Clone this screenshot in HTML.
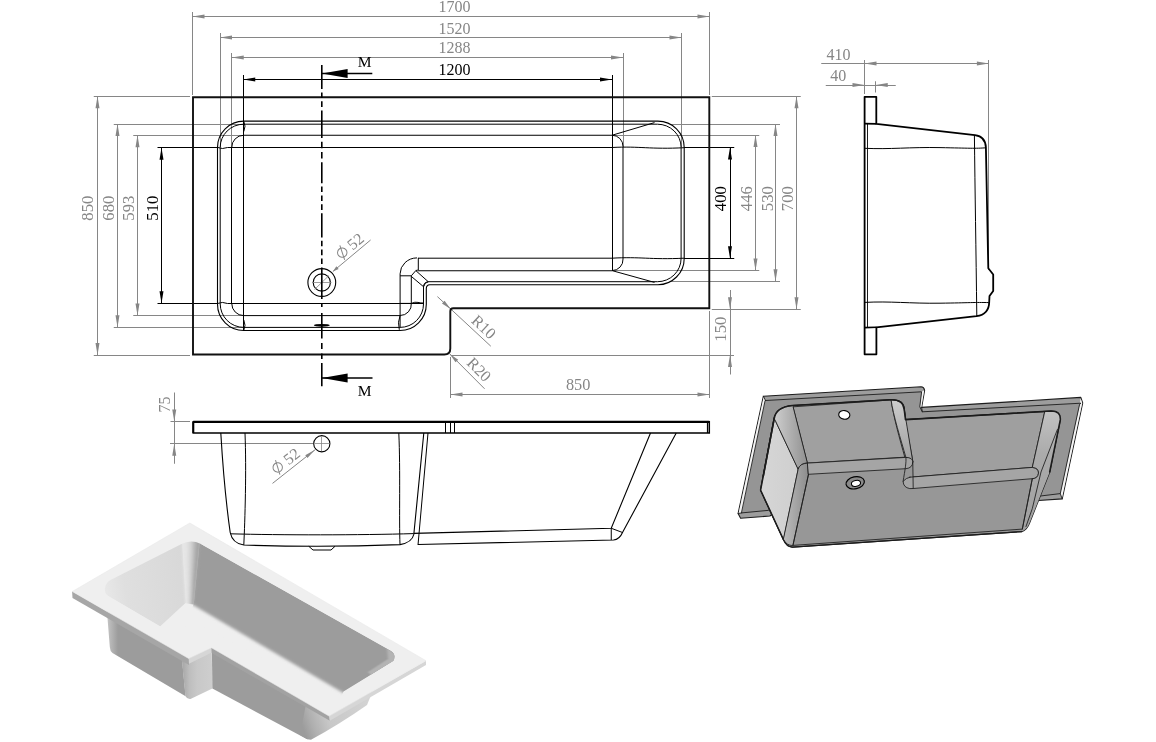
<!DOCTYPE html>
<html><head><meta charset="utf-8"><title>L-shape bath technical drawing</title>
<style>
html,body{margin:0;padding:0;background:#fff;}
body{width:1156px;height:742px;overflow:hidden;}
svg{display:block;font-family:"Liberation Serif",serif;filter:grayscale(1);}
</style></head><body>
<svg width="1156" height="742" viewBox="0 0 1156 742">
<rect width="1156" height="742" fill="#fff"/>
<g id="plan">
<line x1="192.5" y1="12" x2="192.5" y2="95" stroke="#868686" stroke-width="1" />
<line x1="709.5" y1="12" x2="709.5" y2="95" stroke="#868686" stroke-width="1" />
<line x1="192.5" y1="16.5" x2="709.5" y2="16.5" stroke="#868686" stroke-width="1" />
<polygon points="192.5,16.5 204.50,14.50 204.50,18.50" fill="#868686"/>
<polygon points="709.5,16.5 697.50,18.50 697.50,14.50" fill="#868686"/>
<text x="454.6" y="12.4" fill="#868686" font-size="16" text-anchor="middle" >1700</text>
<line x1="220.5" y1="33" x2="220.5" y2="147" stroke="#868686" stroke-width="1" />
<line x1="681.5" y1="33" x2="681.5" y2="147" stroke="#868686" stroke-width="1" />
<line x1="220" y1="37.5" x2="681.5" y2="37.5" stroke="#868686" stroke-width="1" />
<polygon points="220,37.5 232.00,35.50 232.00,39.50" fill="#868686"/>
<polygon points="681.5,37.5 669.50,39.50 669.50,35.50" fill="#868686"/>
<text x="454.6" y="33.6" fill="#868686" font-size="16" text-anchor="middle" >1520</text>
<line x1="231.5" y1="53" x2="231.5" y2="147" stroke="#868686" stroke-width="1" />
<line x1="623.5" y1="53" x2="623.5" y2="147" stroke="#868686" stroke-width="1" />
<line x1="231.75" y1="57.5" x2="623" y2="57.5" stroke="#868686" stroke-width="1" />
<polygon points="231.75,57.5 243.75,55.50 243.75,59.50" fill="#868686"/>
<polygon points="623,57.5 611.00,59.50 611.00,55.50" fill="#868686"/>
<text x="454.6" y="52.9" fill="#868686" font-size="16" text-anchor="middle" >1288</text>
<line x1="243.5" y1="75" x2="243.5" y2="121" stroke="#000" stroke-width="1" />
<line x1="612.5" y1="75" x2="612.5" y2="136" stroke="#000" stroke-width="1" />
<line x1="243.25" y1="79.5" x2="612" y2="79.5" stroke="#000" stroke-width="1" />
<polygon points="243.25,79.5 255.25,77.50 255.25,81.50" fill="#000"/>
<polygon points="612,79.5 600.00,81.50 600.00,77.50" fill="#000"/>
<text x="454.6" y="75.3" fill="#000" font-size="16" text-anchor="middle" >1200</text>
<line x1="93.75" y1="96.5" x2="190" y2="96.5" stroke="#868686" stroke-width="1" />
<line x1="93.75" y1="355.5" x2="190" y2="355.5" stroke="#868686" stroke-width="1" />
<line x1="97.5" y1="96.25" x2="97.5" y2="355" stroke="#868686" stroke-width="1" />
<polygon points="97.5,96.25 99.50,108.25 95.50,108.25" fill="#868686"/>
<polygon points="97.5,355 95.50,343.00 99.50,343.00" fill="#868686"/>
<line x1="113.75" y1="124.5" x2="243" y2="124.5" stroke="#868686" stroke-width="1" />
<line x1="113.75" y1="327.5" x2="243" y2="327.5" stroke="#868686" stroke-width="1" />
<line x1="117.5" y1="124" x2="117.5" y2="327.25" stroke="#868686" stroke-width="1" />
<polygon points="117.5,124 119.50,136.00 115.50,136.00" fill="#868686"/>
<polygon points="117.5,327.25 115.50,315.25 119.50,315.25" fill="#868686"/>
<line x1="133.25" y1="135.5" x2="243" y2="135.5" stroke="#868686" stroke-width="1" />
<line x1="133.25" y1="315.5" x2="243" y2="315.5" stroke="#868686" stroke-width="1" />
<line x1="137.5" y1="135.25" x2="137.5" y2="315.5" stroke="#868686" stroke-width="1" />
<polygon points="137.5,135.25 139.50,147.25 135.50,147.25" fill="#868686"/>
<polygon points="137.5,315.5 135.50,303.50 139.50,303.50" fill="#868686"/>
<line x1="157.5" y1="147.5" x2="217" y2="147.5" stroke="#000" stroke-width="1" />
<line x1="157.5" y1="303.5" x2="217" y2="303.5" stroke="#000" stroke-width="1" />
<line x1="161.5" y1="147.75" x2="161.5" y2="303.25" stroke="#000" stroke-width="1" />
<polygon points="161.5,147.75 163.50,159.75 159.50,159.75" fill="#000"/>
<polygon points="161.5,303.25 159.50,291.25 163.50,291.25" fill="#000"/>
<text x="93.4" y="208.2" fill="#868686" font-size="16.6" text-anchor="middle" transform="rotate(-90 93.4 208.2)" >850</text>
<text x="113.7" y="208.2" fill="#868686" font-size="16.6" text-anchor="middle" transform="rotate(-90 113.7 208.2)" >680</text>
<text x="133.7" y="208.2" fill="#868686" font-size="16.6" text-anchor="middle" transform="rotate(-90 133.7 208.2)" >593</text>
<text x="157.6" y="208.2" fill="#000" font-size="16.6" text-anchor="middle" transform="rotate(-90 157.6 208.2)" >510</text>
<line x1="684" y1="147.5" x2="734.25" y2="147.5" stroke="#000" stroke-width="1" />
<line x1="684" y1="258.5" x2="734.25" y2="258.5" stroke="#000" stroke-width="1" />
<line x1="730.5" y1="147.5" x2="730.5" y2="258.25" stroke="#000" stroke-width="1" />
<polygon points="730,147.5 732.00,159.50 728.00,159.50" fill="#000"/>
<polygon points="730,258.25 728.00,246.25 732.00,246.25" fill="#000"/>
<line x1="612" y1="135.5" x2="759.25" y2="135.5" stroke="#868686" stroke-width="1" />
<line x1="612" y1="270.5" x2="759.25" y2="270.5" stroke="#868686" stroke-width="1" />
<line x1="755.5" y1="135" x2="755.5" y2="270.5" stroke="#868686" stroke-width="1" />
<polygon points="755.5,135 757.50,147.00 753.50,147.00" fill="#868686"/>
<polygon points="755.5,270.5 753.50,258.50 757.50,258.50" fill="#868686"/>
<line x1="670" y1="124.5" x2="780" y2="124.5" stroke="#868686" stroke-width="1" />
<line x1="670" y1="281.5" x2="780" y2="281.5" stroke="#868686" stroke-width="1" />
<line x1="775.5" y1="124" x2="775.5" y2="281.25" stroke="#868686" stroke-width="1" />
<polygon points="775.5,124 777.50,136.00 773.50,136.00" fill="#868686"/>
<polygon points="775.5,281.25 773.50,269.25 777.50,269.25" fill="#868686"/>
<line x1="711.75" y1="96.5" x2="800.75" y2="96.5" stroke="#868686" stroke-width="1" />
<line x1="711.75" y1="309.5" x2="800.75" y2="309.5" stroke="#868686" stroke-width="1" />
<line x1="796.5" y1="96.25" x2="796.5" y2="309.25" stroke="#868686" stroke-width="1" />
<polygon points="796.5,96.25 798.50,108.25 794.50,108.25" fill="#868686"/>
<polygon points="796.5,309.25 794.50,297.25 798.50,297.25" fill="#868686"/>
<text x="726.4" y="198.7" fill="#000" font-size="16.6" text-anchor="middle" transform="rotate(-90 726.4 198.7)" >400</text>
<text x="752.2" y="198.7" fill="#868686" font-size="16.6" text-anchor="middle" transform="rotate(-90 752.2 198.7)" >446</text>
<text x="772.6" y="198.7" fill="#868686" font-size="16.6" text-anchor="middle" transform="rotate(-90 772.6 198.7)" >530</text>
<text x="793.2" y="198.7" fill="#868686" font-size="16.6" text-anchor="middle" transform="rotate(-90 793.2 198.7)" >700</text>
<line x1="730.5" y1="290" x2="730.5" y2="374.5" stroke="#868686" stroke-width="1" />
<polygon points="730,309.25 728.00,297.25 732.00,297.25" fill="#868686"/>
<polygon points="730,355 732.00,367.00 728.00,367.00" fill="#868686"/>
<line x1="450.75" y1="355.5" x2="734" y2="355.5" stroke="#868686" stroke-width="1" />
<line x1="709.5" y1="311" x2="709.5" y2="398" stroke="#868686" stroke-width="1" />
<text x="726.4" y="329.2" fill="#868686" font-size="16.6" text-anchor="middle" transform="rotate(-90 726.4 329.2)" >150</text>
<line x1="450.5" y1="357" x2="450.5" y2="398" stroke="#868686" stroke-width="1" />
<line x1="450.5" y1="394.5" x2="709.5" y2="394.5" stroke="#868686" stroke-width="1" />
<polygon points="450.5,394.5 462.50,392.50 462.50,396.50" fill="#868686"/>
<polygon points="709.5,394.5 697.50,396.50 697.50,392.50" fill="#868686"/>
<text x="578.1" y="389.9" fill="#868686" font-size="16.3" text-anchor="middle" >850</text>
<line x1="437.4" y1="296.6" x2="490.8" y2="346.2" stroke="#868686" stroke-width="1" />
<polygon points="450.6,309.0 441.98,303.58 444.56,300.80" fill="#868686"/>
<line x1="449.8" y1="353.9" x2="484.6" y2="388.8" stroke="#868686" stroke-width="1" />
<polygon points="449.8,353.9 458.21,359.64 455.51,362.32" fill="#868686"/>
<g transform="translate(437.4,296.6) rotate(42.9)"><text x="54.7" y="-4" fill="#868686" font-size="16" text-anchor="middle">R10</text></g>
<g transform="translate(449.8,353.9) rotate(45.1)"><text x="31.8" y="-4.4" fill="#868686" font-size="16" text-anchor="middle">R20</text></g>
<line x1="332.9" y1="271.5" x2="370.6" y2="240.0" stroke="#868686" stroke-width="1" />
<polygon points="332.9,271.5 336.35,266.27 338.66,269.03" fill="#868686"/>
<g transform="translate(332.9,271.5) rotate(-39.88)"><circle cx="19.3" cy="-8.5" r="4.7" fill="none" stroke="#868686" stroke-width="1"/><line x1="22.1" y1="-15.6" x2="16.5" y2="-1.4000000000000004" stroke="#868686" stroke-width="1"/><text x="36.6" y="-3.2" fill="#868686" font-size="16" text-anchor="middle">52</text></g>
<path d="M193,97.2 H709.3 V308.3 H453.3 Q450.3,308.3 450.3,311.3 V348.5 Q450.3,354.5 444.3,354.5 H193 Z" stroke="#111" stroke-width="1.9" fill="none" stroke-linejoin="miter"/>
<path d="M217.5,147.4 A26.3,26.3 0 0 1 243.8,121.1 H657.9 A26.3,26.3 0 0 1 684.2,147.4 V258.4 A26.3,26.3 0 0 1 657.9,284.7 H429.8 Q426.3,284.9 426.3,288.6 V304.2 A26.3,26.3 0 0 1 400,330.5 H243.8 A26.3,26.3 0 0 1 217.5,304.2 Z" stroke="#000" stroke-width="1.1" fill="none" />
<path d="M220.2,147.4 A23.6,23.2 0 0 1 243.8,124.2 H657.5 A23.6,23.2 0 0 1 681.1,147.4 V258.4 A23.6,23.3 0 0 1 657.5,281.7 H429 Q423.5,281.9 423.5,287 V304 A23.5,23.4 0 0 1 400,327.4 H243.8 A23.6,23.6 0 0 1 220.2,303.8 Z" stroke="#000" stroke-width="1" fill="none" />
<path d="M231.75,147.5 A12,12 0 0 1 243.75,135.25 H612" stroke="#000" stroke-width="1" fill="none" />
<path d="M217.5,147.4 Q222.5,149.6 227.5,147.5 H612 C640,146 650,149.5 684.25,147.7" stroke="#000" stroke-width="1" fill="none" />
<line x1="231.5" y1="147.5" x2="231.5" y2="303.5" stroke="#000" stroke-width="1" />
<line x1="243.5" y1="121.1" x2="243.5" y2="330.5" stroke="#000" stroke-width="1" />
<path d="M231.75,303.5 A12,12 0 0 0 243.75,315.6 H400" stroke="#000" stroke-width="1" fill="none" />
<path d="M217.5,303.5 Q222.5,301.4 227.5,303.5 H423.5" stroke="#000" stroke-width="1" fill="none" />
<path d="M243.8,121.3 Q246.2,126 243.8,131.5 M243.8,330.3 Q246.2,325.5 243.8,320" stroke="#000" stroke-width="1" fill="none" />
<path d="M612,135.25 A11,11 0 0 1 623,146.5 V259 A11,11 0 0 1 612,270.6" stroke="#000" stroke-width="1" fill="none" />
<line x1="612.5" y1="135.25" x2="612.5" y2="270.6" stroke="#000" stroke-width="1" />
<line x1="612" y1="135.25" x2="654.5" y2="122.6" stroke="#000" stroke-width="1" />
<line x1="612" y1="270.6" x2="654.5" y2="282.4" stroke="#000" stroke-width="1" />
<path d="M418,258.2 H612 C640,256.5 650,259.8 684.25,258.2" stroke="#000" stroke-width="1" fill="none" />
<path d="M417.5,270.75 H612" stroke="#000" stroke-width="1" fill="none" />
<path d="M400.1,327 V273.8 A17,16 0 0 1 417,257.9" stroke="#000" stroke-width="1" fill="none" />
<path d="M418.3,257.9 V270 M400.1,275.8 H411.3" stroke="#000" stroke-width="1" fill="none" />
<path d="M411.3,303.3 V275.8 L415.8,270.6 L417.7,270" stroke="#000" stroke-width="1" fill="none" />
<path d="M411.3,276.4 L423.5,286.7 M415.8,270.6 L428,281.5 M423.6,286.6 Q424.5,282.5 428.5,281.6" stroke="#000" stroke-width="1" fill="none" />
<path d="M400.1,315.5 A11.2,11.2 0 0 0 411.3,303.3" stroke="#000" stroke-width="1" fill="none" />
<path d="M400.1,303.4 H411.3 Q415,301.6 418,302.4 T423.5,303" stroke="#000" stroke-width="1" fill="none" />
<path d="M400.1,315.5 Q397.3,322 399.3,329.8" stroke="#000" stroke-width="1" fill="none" />
<circle cx="321.8" cy="282.5" r="13.9" fill="none" stroke="#000" stroke-width="1.1"/>
<circle cx="321.8" cy="282.5" r="8.6" fill="none" stroke="#000" stroke-width="1.1"/>
<line x1="312" y1="282.5" x2="331.5" y2="282.5" stroke="#868686" stroke-width="0.8" />
<line x1="314.5" y1="289.5" x2="329" y2="275.5" stroke="#868686" stroke-width="0.8" />
<ellipse cx="321.8" cy="325.3" rx="8" ry="1.4" fill="#000"/>
<path d="M321.8,64.9 V89.1 M321.8,92.4 V98 M321.8,101.3 V107 M321.8,110.5 V138 M321.8,141.8 V148.3 M321.8,152 V158.5 M321.8,162.3 V183.2 M321.8,186.5 V192.1 M321.8,195.4 V201 M321.8,204.3 V210 M321.8,213.2 V237.4 M321.8,240.7 V246.3 M321.8,249.6 V255.2 M321.8,258.5 V264.1 M321.8,267.4 V298.9 M321.8,302.9 V306.9 M321.8,312.9 V338.5 M321.8,342.9 V348.9 M321.8,353.4 V358.9 M321.8,362.9 V386.3" stroke="#000" stroke-width="1.6" fill="none" />
<line x1="322" y1="73.4" x2="372.3" y2="73.4" stroke="#000" stroke-width="1.5" />
<polygon points="322,73.4 347.60,68.90 347.60,77.90" fill="#000"/>
<line x1="322" y1="378" x2="372.5" y2="378" stroke="#000" stroke-width="1.5" />
<polygon points="322,378 347.60,373.50 347.60,382.50" fill="#000"/>
<text x="364.7" y="66.8" fill="#000" font-size="15.5" text-anchor="middle" >M</text>
<text x="364.7" y="396" fill="#000" font-size="15.5" text-anchor="middle" >M</text>
</g>
<g id="side">
<line x1="864.5" y1="60" x2="864.5" y2="94" stroke="#868686" stroke-width="1" />
<line x1="988.5" y1="60" x2="988.5" y2="270" stroke="#868686" stroke-width="1" />
<line x1="821.25" y1="63.5" x2="988.9" y2="63.5" stroke="#868686" stroke-width="1" />
<polygon points="864.5,63.5 876.50,61.50 876.50,65.50" fill="#868686"/>
<polygon points="988.9,63.5 976.90,65.50 976.90,61.50" fill="#868686"/>
<text x="838.5" y="59.5" fill="#868686" font-size="16" text-anchor="middle" >410</text>
<line x1="875.5" y1="81.25" x2="875.5" y2="92.5" stroke="#868686" stroke-width="1" />
<line x1="825.75" y1="85.5" x2="895.75" y2="85.5" stroke="#868686" stroke-width="1" />
<polygon points="864.5,85 852.50,87.00 852.50,83.00" fill="#868686"/>
<polygon points="875.75,85 887.75,83.00 887.75,87.00" fill="#868686"/>
<text x="838.2" y="80.75" fill="#868686" font-size="16" text-anchor="middle" >40</text>
<path d="M864.6,354.3 V96.8 H876.3 V123.8 L975,135.1 Q985.4,136.3 985.9,147.5 L988.3,268.3 L993.2,274.5 V291 L989.5,296 L989.2,302 Q989,314.5 976.5,316.2 L876.4,327.3 V354.3 Z" stroke="#000" stroke-width="1.8" fill="none" stroke-linejoin="round"/>
<line x1="864.6" y1="123.6" x2="876.3" y2="123.8" stroke="#000" stroke-width="1.8" />
<line x1="864.6" y1="327.6" x2="876.4" y2="327.3" stroke="#000" stroke-width="1.6" />
<line x1="867.5" y1="123.8" x2="867.5" y2="327.5" stroke="#000" stroke-width="0.9" />
<path d="M864.6,148.3 C890,149.5 910,147 940,147.6 S975,148.6 986,147.8" stroke="#000" stroke-width="1" fill="none" />
<path d="M864.6,302.4 C890,301 910,303.6 940,303.2 S975,302.2 988.8,302.6" stroke="#000" stroke-width="1" fill="none" />
<path d="M974.4,135 C975,190 976,250 976.8,316" stroke="#000" stroke-width="1" fill="none" />
</g>
<g id="front">
<line x1="174.5" y1="392.5" x2="174.5" y2="463.75" stroke="#868686" stroke-width="1" />
<polygon points="174.25,421.4 172.25,409.40 176.25,409.40" fill="#868686"/>
<polygon points="174.25,443.75 176.25,455.75 172.25,455.75" fill="#868686"/>
<line x1="170.5" y1="421.5" x2="190" y2="421.5" stroke="#868686" stroke-width="1" />
<line x1="170" y1="443.5" x2="313" y2="443.5" stroke="#868686" stroke-width="1" />
<text x="170.5" y="404.4" fill="#868686" font-size="16" text-anchor="middle" transform="rotate(-90 170.5 404.4)" >75</text>
<path d="M193.2,433.1 V421.8 H709.3 V433.1 Z" stroke="#000" stroke-width="1.5" fill="none" />
<line x1="193.2" y1="421.9" x2="709.3" y2="421.9" stroke="#000" stroke-width="2.2" />
<line x1="193.3" y1="421.8" x2="193.3" y2="433" stroke="#000" stroke-width="2" />
<line x1="707.5" y1="421.8" x2="707.5" y2="433" stroke="#000" stroke-width="1.2" />
<line x1="445.5" y1="422" x2="445.5" y2="433" stroke="#000" stroke-width="1" />
<line x1="450.5" y1="422" x2="450.5" y2="433" stroke="#000" stroke-width="1" />
<line x1="454.5" y1="422" x2="454.5" y2="433" stroke="#000" stroke-width="1" />
<path d="M220.8,433 C223,470 227,510 230.2,532.5 Q232.5,543.5 243.8,545 C290,546.6 350,546.6 400,544.6 Q412,542.5 413.8,534.5 L423.8,433" stroke="#000" stroke-width="1.1" fill="none" />
<path d="M245,433 C246.5,470 245,520 243.8,545" stroke="#000" stroke-width="1" fill="none" />
<path d="M230.4,533.8 C280,535.2 360,535.2 413.6,533.6" stroke="#000" stroke-width="1" fill="none" />
<path d="M398.8,433 C400.5,470 399,520 400,544.6" stroke="#000" stroke-width="1" fill="none" />
<path d="M428,433 L418,545" stroke="#000" stroke-width="1" fill="none" />
<path d="M308.8,546.3 L313,550 H331 L335,546.3" stroke="#000" stroke-width="1" fill="none" />
<circle cx="321.8" cy="443.75" r="8.1" fill="#fff" stroke="#000" stroke-width="1.1"/>
<line x1="314.5" y1="443.5" x2="329.5" y2="443.5" stroke="#868686" stroke-width="0.8" />
<line x1="321.5" y1="436.5" x2="321.5" y2="451" stroke="#868686" stroke-width="0.8" />
<line x1="272.5" y1="483.4" x2="315" y2="449.8" stroke="#868686" stroke-width="1" />
<polygon points="315,449.8 307.49,458.03 305.25,455.21" fill="#868686"/>
<g transform="translate(272.5,483.4) rotate(-38.33)"><circle cx="14.0" cy="-9.3" r="4.7" fill="none" stroke="#868686" stroke-width="1"/><line x1="16.8" y1="-16.4" x2="11.2" y2="-2.200000000000001" stroke="#868686" stroke-width="1"/><text x="32" y="-4.0" fill="#868686" font-size="16" text-anchor="middle">52</text></g>
<path d="M413.8,533.4 L611.25,528.25 L650.5,433" stroke="#000" stroke-width="1.1" fill="none" />
<path d="M418,544.5 L613.5,540 Q619.5,539.5 622.5,532.5 L676.25,433" stroke="#000" stroke-width="1.1" fill="none" />
<path d="M611.25,528.25 V540 M611.25,528.25 L622.5,532.5" stroke="#000" stroke-width="1" fill="none" />
</g>
<g id="gray3d" stroke-linejoin="round" stroke-linecap="round">
<defs>
<linearGradient id="gEnd" x1="0" y1="0" x2="1" y2="0"><stop offset="0" stop-color="#d6d6d6"/><stop offset="1" stop-color="#cfcfcf"/></linearGradient>
<linearGradient id="gBl1" x1="0" y1="0" x2="1" y2="0"><stop offset="0" stop-color="#cfcfcf"/><stop offset="1" stop-color="#8f8f8f"/></linearGradient>
<linearGradient id="gBl2" x1="0" y1="0" x2="1" y2="0"><stop offset="0" stop-color="#bcbcbc"/><stop offset="1" stop-color="#8c8c8c"/></linearGradient>
<linearGradient id="gBl3" x1="0" y1="0" x2="0" y2="1"><stop offset="0" stop-color="#cccccc"/><stop offset="1" stop-color="#a0a0a0"/></linearGradient>
<linearGradient id="gBl4" gradientUnits="userSpaceOnUse" x1="1040" y1="412" x2="1040" y2="530"><stop offset="0" stop-color="#c2c2c2"/><stop offset="0.35" stop-color="#ababab"/><stop offset="1" stop-color="#a0a0a0"/></linearGradient>
</defs>
<path d="M763.4,396.2 L921,386.8 Q924,387 924.6,390.3 L921.6,407.4 L1080.8,397.4 L1082.7,403 L1062.2,498.9 L1038.5,500.5 L1030,470 L900,440 L790,500 L769.9,516 L740.6,518.3 L738.1,513.5 Z" stroke="#1c1c1c" stroke-width="1.1" fill="#9d9d9d" />
<path d="M763.6,397 L765.4,400.6 L741.9,512.8 L738.6,513.2 Z" stroke="none" stroke-width="0" fill="#f4f4f4" />
<path d="M1080.6,398.2 L1082.3,403 L1062,498 L1060.4,493.6 L1079.7,404.2 Z" stroke="none" stroke-width="0" fill="#f4f4f4" />
<path d="M921.8,391.6 L924.2,390.6 L921.4,407 L919.9,406.6 Z" stroke="none" stroke-width="0" fill="#f4f4f4" />
<path d="M765.5,400.5 L921.6,391.8 L919.8,406.8 L922.3,411.8 L1081,403.2 L1079.6,404.3 L1060.3,493.6 L1039.7,496.1 L1030,470 L790,500 L768,510.4 L741.8,512.9 Z" stroke="#1c1c1c" stroke-width="0.9" fill="#959595" />
<line x1="763.4" y1="396.2" x2="765.5" y2="400.5" stroke="#1c1c1c" stroke-width="0.85" />
<line x1="738.1" y1="513.5" x2="741.8" y2="512.9" stroke="#1c1c1c" stroke-width="0.85" />
<line x1="1062.2" y1="498.9" x2="1060.3" y2="493.6" stroke="#1c1c1c" stroke-width="0.85" />
<line x1="921.6" y1="407.4" x2="922.3" y2="411.8" stroke="#1c1c1c" stroke-width="0.85" />
<path d="M774.2,418.6 Q776,407 792.3,405.5 L891.1,399.7 Q903.5,399.5 904.2,409.3 L905.5,419.5 L1051,411 Q1061,411 1060.3,419.9 L1049.7,472 L1029.8,522.3 Q1027,530 1021.7,531.6 L792.3,547.2 Q786.5,546.5 783.5,539.7 L760.6,490.2 Z" stroke="#1c1c1c" stroke-width="1.25" fill="#979797" />
<path d="M774.2,418.6 L775.5,421 L798.2,469 L783.5,539.7 L760.6,490.2 Z" stroke="#1c1c1c" stroke-width="0.85" fill="url(#gEnd)" />
<path d="M774.2,418.6 L760.6,490.2 L783.5,539.7" stroke="#1c1c1c" stroke-width="1.5" fill="none" />
<path d="M775.5,421 L773.8,418 Q776.5,407.2 792.3,405.6 L793.5,406.8 L807.8,462.8 Q799.5,463.5 798.2,469 Z" stroke="#1c1c1c" stroke-width="0.85" fill="url(#gBl1)" />
<path d="M798.2,469 Q799.5,463.5 807.8,463.1 L808.5,474.3 L792.9,545.6 Q786.5,545.5 783.5,539.7 Z" stroke="#1c1c1c" stroke-width="0.85" fill="url(#gBl2)" />
<path d="M793.5,406.8 L891.1,399.9 C893,415 900,440 904.8,457.2 L807.8,463 Z" stroke="#1c1c1c" stroke-width="0.85" fill="#a0a0a0" />
<path d="M905.5,419.6 L1044.7,411.8 L1032.3,467.4 L909.9,477.2 L912.8,461.8 Z" stroke="#1c1c1c" stroke-width="0.85" fill="#9f9f9f" />
<path d="M905.9,468.7 C904.6,473 903.2,477 903.1,481.3 Q903.3,487.5 909.8,488.6 L913.2,488.5 L912.8,461.8 Z" stroke="none" stroke-width="0" fill="#979797" />
<path d="M909.9,477.2 L1032.3,467.4 Q1038.8,468 1038.5,473.1 Q1038,478.5 1032.3,478.7 L913.2,488.5 L909.8,488.6 Q903.3,487.5 903.1,481.3 Q906,478 909.9,477.2 Z" stroke="#1c1c1c" stroke-width="0.85" fill="#a5a5a5" />
<path d="M891.1,399.9 Q903.5,399.7 904.2,409.3 L912.8,461.8 Q911,457.6 905.9,457.4 C901,440 893,415 891.1,399.9 Z" stroke="#1c1c1c" stroke-width="0.85" fill="url(#gBl3)" />
<path d="M807.8,463.1 L905.9,457.4 Q912.6,457.6 912.8,461.8 Q912.6,468 905.9,468.7 L808.5,474.3 Z" stroke="#1c1c1c" stroke-width="0.85" fill="#a5a5a5" />
<path d="M905.9,457.4 C906.5,462 905,470 903.1,481.3" stroke="#1c1c1c" stroke-width="0.85" fill="none" />
<path d="M912.8,461.8 L913.2,488.4" stroke="#1c1c1c" stroke-width="0.85" fill="none" />
<path d="M1044.7,411.8 L1051,411 Q1061,411 1060.3,419.9 L1049.7,472 L1029.8,522.3 Q1027,530 1021.7,531.6 L1022.3,529.1 L1032.3,478.7 Q1038,478.5 1038.5,473.1 Q1038.8,468 1032.3,467.4 Z" stroke="none" stroke-width="0" fill="url(#gBl4)" />
<path d="M1044.7,411.8 L1032.3,467.4 Q1038.8,468 1038.5,473.1 Q1038,478.5 1032.3,478.7 L1022.3,529.3" stroke="#1c1c1c" stroke-width="0.85" fill="none" />
<path d="M1057.4,429.5 L1041,472 L1032.3,508.6 L1026,526.5" stroke="#1c1c1c" stroke-width="0.85" fill="none" />
<path d="M808.5,474.3 L792.9,545.4 L1022.3,529.1 L1032.3,478.7" stroke="#1c1c1c" stroke-width="0.85" fill="none" />
<path d="M783.5,539.7 Q786.5,546.6 792.3,547.2 L1021.7,531.6" stroke="#1c1c1c" stroke-width="1.1" fill="none" />
<path d="M763.3,476 L774.2,418.6 Q776,407 792.3,405.5 L891.1,399.7 Q903.5,399.5 904.2,409.3 L905.5,419.6 L1051,411 Q1061,411 1060.3,419.9 L1049.7,472" stroke="#1c1c1c" stroke-width="1.6" fill="none" />
<ellipse cx="844.3" cy="414.9" rx="5.6" ry="4.3" fill="#fff" stroke="#000" stroke-width="1.1" transform="rotate(8 844.3 414.9)"/>
<ellipse cx="855.2" cy="482.8" rx="9.3" ry="6" fill="#8a8a8a" stroke="#000" stroke-width="1.2" transform="rotate(-12 855.2 482.8)"/>
<ellipse cx="856" cy="483.4" rx="4.6" ry="2.9" fill="#fff" stroke="#000" stroke-width="1" transform="rotate(-12 856 483.4)"/>
</g>
<g id="white3d">
<defs>
<filter id="b1" x="-10%" y="-10%" width="120%" height="120%"><feGaussianBlur stdDeviation="0.7"/></filter>
<filter id="b15" x="-20%" y="-10%" width="140%" height="120%"><feGaussianBlur stdDeviation="1.1 0.4"/></filter>
<filter id="b2" x="-10%" y="-10%" width="120%" height="120%"><feGaussianBlur stdDeviation="1.6"/></filter>
<linearGradient id="wCorner" gradientUnits="userSpaceOnUse" x1="181" y1="570" x2="199" y2="570"><stop offset="0" stop-color="#e2e2e2"/><stop offset="0.45" stop-color="#d2d2d2"/><stop offset="1" stop-color="#9d9d9d"/></linearGradient>
<linearGradient id="wSlope" gradientUnits="userSpaceOnUse" x1="302" y1="725" x2="372" y2="700"><stop offset="0" stop-color="#9c9c9c"/><stop offset="0.14" stop-color="#b0b0b0"/><stop offset="0.36" stop-color="#c8c8c8"/><stop offset="1" stop-color="#d4d4d4"/></linearGradient>
<linearGradient id="wLeft" gradientUnits="userSpaceOnUse" x1="106" y1="630" x2="118" y2="630"><stop offset="0" stop-color="#c9c9c9"/><stop offset="1" stop-color="#9c9c9c"/></linearGradient>
<linearGradient id="wEnd" gradientUnits="userSpaceOnUse" x1="104" y1="590" x2="186" y2="575"><stop offset="0" stop-color="#e8e8e8"/><stop offset="0.25" stop-color="#dfdfdf"/><stop offset="1" stop-color="#d8d8d8"/></linearGradient>
<linearGradient id="wNotch" gradientUnits="userSpaceOnUse" x1="182" y1="670" x2="212" y2="670"><stop offset="0" stop-color="#a6a6a6"/><stop offset="0.25" stop-color="#bebebe"/><stop offset="0.5" stop-color="#c8c8c8"/><stop offset="1" stop-color="#cecece"/></linearGradient>
<clipPath id="wOpen"><path d="M105.3,586.5 Q106.5,582.3 110.5,580 L181,544.2 Q191,538.8 200.5,543.8 L391,650.8 Q397,655 393.5,661 L347,690 L340,700 L200,625 L163,628 L108.8,596.6 Q103.6,592.8 105.3,586.5 Z"/></clipPath><clipPath id="wWall"><path d="M199.6,543.2 L391,650.8 Q397,655 393.5,661 L343.5,691.6 L338,703 L190,615 L193.9,603 Z"/></clipPath>
</defs>
<g filter="url(#b1)">
<path d="M106.7,608 L181.5,654 L185.6,696.3 L112.5,653 Q110,651 109.8,647 Z" stroke="none" stroke-width="0" fill="url(#wLeft)" />
<path d="M181.3,654 L211.6,642 L212.4,688.4 L190.5,699 Q187.3,699.6 185.4,696 Z" stroke="none" stroke-width="0" fill="url(#wNotch)" />
<path d="M211.8,644 L316,706 L307.2,739.3 L212.4,688.4 Z" stroke="none" stroke-width="0" fill="#9c9c9c" />
<path d="M306,704 L374,688 L367,705 Q340,724 311,739.8 L307.2,739.3 L300,735 Z" stroke="none" stroke-width="0" fill="url(#wSlope)" />
</g>
<path d="M72.1,591.2 L188.9,658.8 L189,665 L72.5,598 Z" stroke="none" stroke-width="0" fill="#a6a6a6" />
<path d="M188.7,658.5 L211.4,647.7 L211.7,652.4 L189,663.8 Z" stroke="none" stroke-width="0" fill="#d6d6d6" />
<path d="M211.4,647.7 L329.1,716.1 L329.8,720.7 L211.7,653 Z" stroke="none" stroke-width="0" fill="#a2a2a2" />
<path d="M329.1,716.1 L426,660.7 L426,665 L329.8,720.7 Z" stroke="none" stroke-width="0" fill="#d6d6d6" />
<path d="M189.8,523 L426,660.7 L329.1,716.1 L211.4,647.7 L188.7,658.5 L72.3,591.5 Z" stroke="#e9e9e9" stroke-width="0.6" fill="#efefef" />
<g clip-path="url(#wOpen)">
<rect x="90" y="520" width="320" height="190" fill="#efefef"/>
<path d="M98,590 L104,578 L182,539 L186,602.5 L160,626.5 Z" stroke="none" stroke-width="0" fill="url(#wEnd)" filter="url(#b1)"/>
<g clip-path="url(#wWall)">
<path d="M170,520 L420,640 L420,670 L346,694.6 L170,591.5 Z" stroke="none" stroke-width="0" fill="#9c9c9c" filter="url(#b2)"/>
<path d="M387,648 L396,655 L395,662 L372,676 L368,672 L388,659 Z" stroke="none" stroke-width="0" fill="#b4b4b4" filter="url(#b15)"/>
</g>
<g filter="url(#b15)">
<path d="M181.50,536 L183.77,536 L186.12,603.18 L185.00,603.00 Z" stroke="none" stroke-width="0" fill="#e4e4e4" />
<path d="M182.84,536 L185.11,536 L186.77,603.29 L185.66,603.11 Z" stroke="none" stroke-width="0" fill="#e5e5e5" />
<path d="M184.17,536 L186.44,536 L187.43,603.40 L186.31,603.21 Z" stroke="none" stroke-width="0" fill="#e6e6e6" />
<path d="M185.51,536 L187.78,536 L188.09,603.50 L186.97,603.32 Z" stroke="none" stroke-width="0" fill="#e3e3e3" />
<path d="M186.84,536 L189.11,536 L188.75,603.61 L187.63,603.43 Z" stroke="none" stroke-width="0" fill="#e0e0e0" />
<path d="M188.18,536 L190.45,536 L189.40,603.72 L188.29,603.54 Z" stroke="none" stroke-width="0" fill="#dcdcdc" />
<path d="M189.51,536 L191.78,536 L190.06,603.83 L188.94,603.64 Z" stroke="none" stroke-width="0" fill="#d6d6d6" />
<path d="M190.85,536 L193.12,536 L190.72,603.93 L189.60,603.75 Z" stroke="none" stroke-width="0" fill="#d0d0d0" />
<path d="M192.19,536 L194.46,536 L191.37,604.04 L190.26,603.86 Z" stroke="none" stroke-width="0" fill="#c8c8c8" />
<path d="M193.52,536 L195.79,536 L192.03,604.15 L190.91,603.96 Z" stroke="none" stroke-width="0" fill="#bfbfbf" />
<path d="M194.86,536 L197.13,536 L192.69,604.25 L191.57,604.07 Z" stroke="none" stroke-width="0" fill="#b5b5b5" />
<path d="M196.19,536 L198.46,536 L193.35,604.36 L192.23,604.18 Z" stroke="none" stroke-width="0" fill="#adadad" />
<path d="M197.53,536 L199.80,536 L194.00,604.47 L192.89,604.29 Z" stroke="none" stroke-width="0" fill="#a6a6a6" />
<path d="M198.86,536 L201.13,536 L194.66,604.58 L193.54,604.39 Z" stroke="none" stroke-width="0" fill="#a1a1a1" />
</g>
</g>
</g>
</svg>
</body></html>
